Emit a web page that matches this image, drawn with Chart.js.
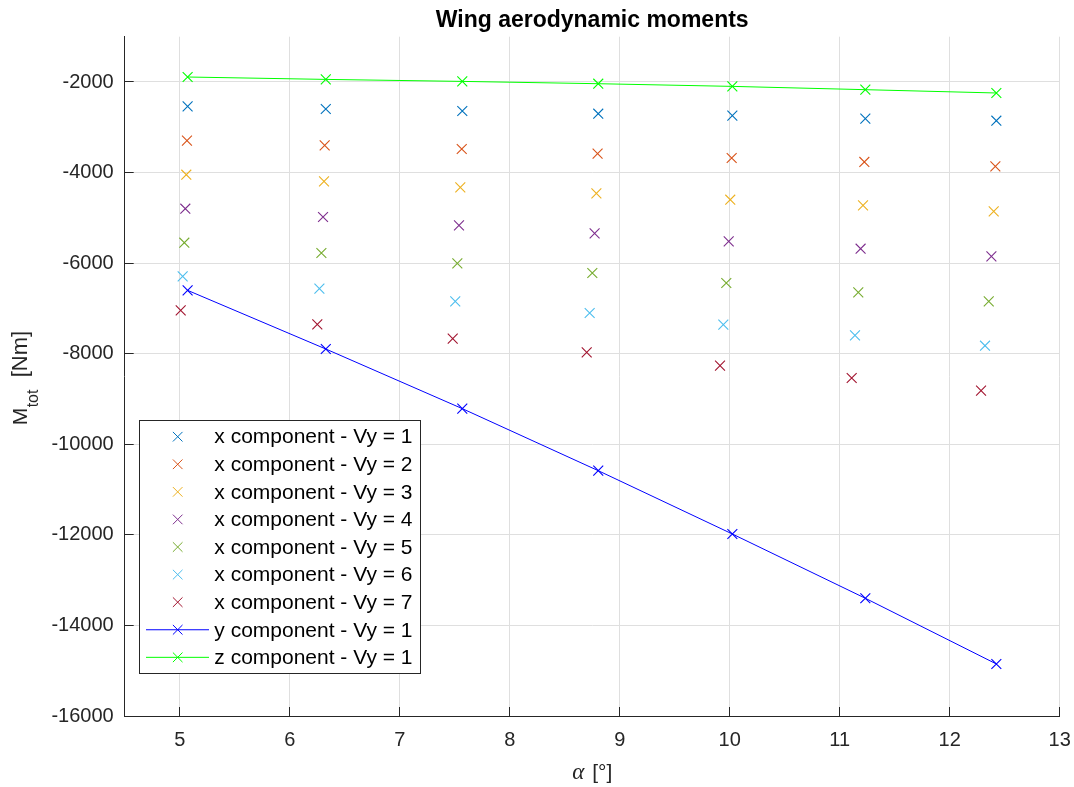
<!DOCTYPE html>
<html><head><meta charset="utf-8">
<script src="https://cdn.jsdelivr.net/npm/chart.js@4.4.1/dist/chart.umd.min.js"></script>
<style>html,body{margin:0;padding:0;background:#fff;} #wrap{width:1074px;height:787px;}</style>
</head><body><div id="wrap"><canvas id="c" width="1074" height="787"></canvas></div>
<script>
const chartTitle = 'Wing aerodynamic moments';
const xAxisTitleSymbol = 'α';
const xAxisTitleUnit = '[°]';
const yAxisTitleMain = 'M';
const yAxisTitleSub = 'tot';
const yAxisTitleUnit = '[Nm]';
const xTickValues = [5, 6, 7, 8, 9, 10, 11, 12, 13];
const yTickValues = [-16000, -14000, -12000, -10000, -8000, -6000, -4000, -2000];

// angle of attack [deg] for each Vy case
const alphaVy1 = [5.072, 6.328, 7.569, 8.805, 10.024, 11.233, 12.424];
const alphaVy2 = [5.066, 6.318, 7.564, 8.799, 10.018, 11.224, 12.415];
const alphaVy3 = [5.060, 6.312, 7.551, 8.788, 10.005, 11.212, 12.400];
const alphaVy4 = [5.051, 6.303, 7.539, 8.772, 9.991, 11.190, 12.379];
const alphaVy5 = [5.042, 6.288, 7.524, 8.751, 9.969, 11.169, 12.355];
const alphaVy6 = [5.027, 6.270, 7.505, 8.727, 9.942, 11.139, 12.321];
const alphaVy7 = [5.009, 6.251, 7.482, 8.700, 9.912, 11.109, 12.285];

// x component of moment [Nm]
const mxVy1 = [-2539, -2596, -2640, -2700, -2744, -2810, -2855];
const mxVy2 = [-3296, -3400, -3479, -3583, -3678, -3766, -3864];
const mxVy3 = [-4047, -4195, -4327, -4460, -4599, -4725, -4857];
const mxVy4 = [-4798, -4981, -5166, -5343, -5519, -5681, -5851];
const mxVy5 = [-5549, -5776, -6005, -6218, -6438, -6646, -6844];
const mxVy6 = [-6292, -6564, -6844, -7101, -7359, -7595, -7823];
const mxVy7 = [-7043, -7352, -7668, -7970, -8264, -8536, -8816];
// y and z components, Vy = 1
const myVy1 = [-6601, -7896, -9213, -10583, -11981, -13400, -14851];
const mzVy1 = [-1890, -1943, -1987, -2038, -2097, -2170, -2243];

const seriesLabels = [
  'x component - Vy = 1', 'x component - Vy = 2', 'x component - Vy = 3',
  'x component - Vy = 4', 'x component - Vy = 5', 'x component - Vy = 6',
  'x component - Vy = 7', 'y component - Vy = 1', 'z component - Vy = 1'
];
const seriesColors = ['#0072BD', '#D95319', '#EDB120', '#7E2F8E', '#77AC30', '#4DBEEE', '#A2142F', '#0000FF', '#00FF00'];
const seriesAlpha = [alphaVy1, alphaVy2, alphaVy3, alphaVy4, alphaVy5, alphaVy6, alphaVy7, alphaVy1, alphaVy1];
const seriesValues = [mxVy1, mxVy2, mxVy3, mxVy4, mxVy5, mxVy6, mxVy7, myVy1, mzVy1];
const seriesHasLine = [false, false, false, false, false, false, false, true, true];

const FONT = '"Liberation Sans", Arial, Helvetica, sans-serif';
const AXIS_COLOR = '#262626';

const datasets = seriesLabels.map((label, i) => ({
  label,
  data: seriesAlpha[i].map((a, k) => ({ x: a, y: seriesValues[i][k] })),
  showLine: seriesHasLine[i],
  borderColor: seriesColors[i],
  backgroundColor: seriesColors[i],
  borderWidth: 1,
  pointStyle: 'crossRot',
  pointRadius: 7,
  pointHoverRadius: 7,
  pointBorderWidth: 1.1,
  pointBorderColor: seriesColors[i],
  order: seriesLabels.length - i,
  tension: 0
}));

const decorPlugin = {
  id: 'decor',
  afterDraw(chart) {
    const { ctx, chartArea: ca, scales } = chart;
    const xs = scales.x, ys = scales.y;
    const align = p => Math.round(p - 0.5) + 0.5;
    ctx.save();
    // inward ticks
    ctx.strokeStyle = AXIS_COLOR;
    ctx.lineWidth = 1;
    ctx.beginPath();
    xTickValues.forEach(v => {
      const px = align(xs.getPixelForValue(v));
      ctx.moveTo(px, ca.bottom);
      ctx.lineTo(px, ca.bottom - 9);
    });
    yTickValues.forEach(v => {
      const py = align(ys.getPixelForValue(v));
      ctx.moveTo(ca.left, py);
      ctx.lineTo(ca.left + 9, py);
    });
    ctx.stroke();

    const cx = (ca.left + ca.right) / 2;
    const cy = (ca.top + ca.bottom) / 2;
    // title
    ctx.fillStyle = '#000';
    ctx.font = 'bold 23px ' + FONT;
    ctx.textAlign = 'center';
    ctx.textBaseline = 'alphabetic';
    ctx.fillText(chartTitle, cx, 27);

    // x axis title
    ctx.fillStyle = AXIS_COLOR;
    ctx.textAlign = 'left';
    const fAlpha = 'italic 23px "Liberation Serif", "DejaVu Serif", serif';
    const fUnit = '21px ' + FONT;
    ctx.font = fAlpha;
    const wA = ctx.measureText(xAxisTitleSymbol).width;
    ctx.font = fUnit;
    const wU = ctx.measureText(xAxisTitleUnit).width;
    const gap = 8;
    const startX = cx - (wA + gap + wU) / 2;
    ctx.font = fAlpha;
    ctx.fillText(xAxisTitleSymbol, startX, 779);
    ctx.font = fUnit;
    ctx.fillText(xAxisTitleUnit, startX + wA + gap, 779);

    // y axis title (rotated)
    ctx.save();
    ctx.translate(0, cy);
    ctx.rotate(-Math.PI / 2);
    ctx.font = '21px ' + FONT;
    ctx.fillText(yAxisTitleMain, -49, 27);
    ctx.font = '16px ' + FONT;
    ctx.fillText(yAxisTitleSub, -31, 38);
    ctx.font = '22px ' + FONT;
    ctx.fillText(yAxisTitleUnit, -1, 27);
    ctx.restore();

    // legend
    const lx = 139.5, ly = 420.5, lw = 281, lh = 253;
    ctx.fillStyle = '#fff';
    ctx.fillRect(lx, ly, lw, lh);
    ctx.strokeStyle = AXIS_COLOR;
    ctx.lineWidth = 1;
    ctx.strokeRect(lx, ly, lw, lh);
    ctx.font = '21px ' + FONT;
    ctx.textBaseline = 'middle';
    ctx.textAlign = 'left';
    chart.data.datasets.forEach((ds, i) => {
      const ry = 436.7 + i * 27.58;
      const mx = 177.7;
      ctx.strokeStyle = ds.borderColor;
      ctx.lineWidth = 1;
      ctx.beginPath();
      if (ds.showLine) {
        ctx.moveTo(146, ry);
        ctx.lineTo(209, ry);
      }
      const h = 4.8;
      ctx.moveTo(mx - h, ry - h); ctx.lineTo(mx + h, ry + h);
      ctx.moveTo(mx - h, ry + h); ctx.lineTo(mx + h, ry - h);
      ctx.stroke();
      ctx.fillStyle = '#000';
      ctx.fillText(ds.label, 214.3, ry + 1);
    });
    ctx.restore();
  }
};

new Chart(document.getElementById('c'), {
  type: 'scatter',
  data: { datasets },
  options: {
    responsive: false,
    devicePixelRatio: 1,
    animation: false,
    events: [],
    layout: { padding: { top: 36.7, right: 14.3, bottom: 0, left: 0 } },
    plugins: { legend: { display: false }, title: { display: false }, tooltip: { enabled: false } },
    scales: {
      x: {
        type: 'linear', position: 'bottom', min: 4.5, max: 13,
        afterBuildTicks: s => { s.ticks = xTickValues.map(v => ({ value: v })); },
        afterFit: s => { s.height = 71; s.paddingLeft = 0; s.paddingRight = 0; },
        grid: { color: '#dfdfdf', lineWidth: 1, drawTicks: false },
        border: { color: AXIS_COLOR, width: 1 },
        ticks: { font: { family: FONT, size: 20 }, color: AXIS_COLOR, padding: 12, maxRotation: 0, autoSkip: false, callback: v => String(v) }
      },
      y: {
        type: 'linear', position: 'left', min: -16000, max: -1000,
        afterBuildTicks: s => { s.ticks = yTickValues.map(v => ({ value: v })); },
        afterFit: s => { s.width = 124.7; s.paddingTop = 0; s.paddingBottom = 0; },
        grid: { color: '#dfdfdf', lineWidth: 1, drawTicks: false },
        border: { color: AXIS_COLOR, width: 1 },
        ticks: { font: { family: FONT, size: 20 }, color: AXIS_COLOR, padding: 11, autoSkip: false, callback: v => String(v) }
      }
    }
  },
  plugins: [decorPlugin]
});
</script>
</body></html>
